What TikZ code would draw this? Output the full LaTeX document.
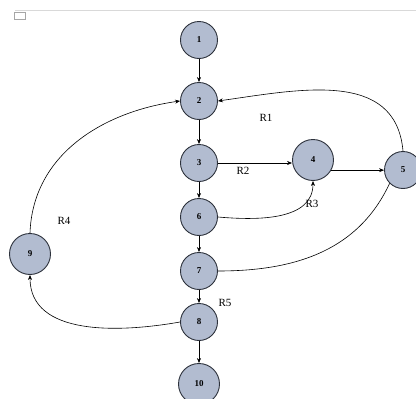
\documentclass[tikz,border=0pt]{standalone}
\usepackage{fontspec}
\setmainfont{Liberation Serif}
\usetikzlibrary{arrows.meta}

\definecolor{nodefill}{RGB}{178,188,208}
\definecolor{nodeline}{RGB}{45,50,60}

\begin{document}
\begin{tikzpicture}[x=1pt,y=-1pt,
  vtx/.style={circle,draw=nodeline,line width=0.9pt,fill=nodefill,minimum size=37pt,inner sep=0pt,font=\fontsize{9}{10}\selectfont\bfseries},
  big/.style={minimum size=41pt},
  arr/.style={-{Stealth[length=5pt,width=4pt]},line width=0.6pt},
  lbl/.style={font=\fontsize{11}{12}\selectfont}]
\useasboundingbox (0,0) rectangle (416,399);
% screenshot frame bits
\draw[black!15,line width=0.6pt] (15,10) -- (416,10);
\draw[black!35,line width=0.6pt] (14,12) rectangle (25,19);
% vertices
\node[vtx] (n1) at (199,40) {1};
\node[vtx] (n2) at (199,101) {2};
\node[vtx] (n3) at (199,163) {3};
\node[vtx,big] (n4) at (313,160) {4};
\node[vtx] (n5) at (403,170) {5};
\node[vtx] (n6) at (199,217) {6};
\node[vtx] (n7) at (199,271) {7};
\node[vtx] (n8) at (199,322) {8};
\node[vtx,big] (n9) at (30,254) {9};
\node[vtx,big] (n10) at (199,384) {10};
% straight edges
\draw[arr] (n1) -- (n2);
\draw[arr] (n2) -- (n3);
\draw[arr] (n3) -- (n6);
\draw[arr] (n6) -- (n7);
\draw[arr] (n7) -- (n8);
\draw[arr] (n8) -- (n10);
\draw[arr] (n3.east) -- (n3.east -| n4.west);
\draw[arr] (n4.-29) -- (n4.-29 -| n5.west);
% curved edges
\draw[arr] (n5.north) to[out=95,in=8,looseness=1.1] (n2.east);
\draw[arr] (n9.north) to[out=88,in=188,looseness=1.0] (n2.west);
\draw[arr] (n6.east) to[out=-5,in=-90,looseness=1.0] (n4.south);
\draw[line width=0.6pt] (n7.east) to[out=0,in=-115,looseness=1.0] (n5.south west);
\draw[arr] (n8.west) to[out=190,in=-90,looseness=1.0] (n9.south);
% regions
\node[lbl] (r1) at (266,118) {R1};
\node[lbl] (r2) at (243,171) {R2};
\node[lbl] (r3) at (312,204) {R3};
\node[lbl] (r4) at (64,221) {R4};
\node[lbl] (r5) at (225,303) {R5};
\end{tikzpicture}
\end{document}
